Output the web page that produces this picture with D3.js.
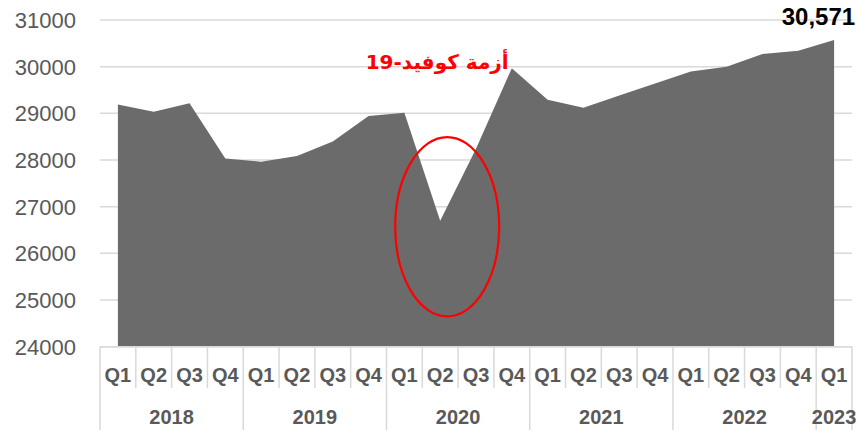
<!DOCTYPE html>
<html>
<head>
<meta charset="utf-8">
<script src="https://cdn.jsdelivr.net/npm/d3@7"></script>
<style>
  html, body { margin: 0; padding: 0; background: #fff; }
  svg { display: block; }
</style>
</head>
<body>
<div id="chart"></div>
<script>
// quarters Q1 2018 .. Q1 2023
const years = ["2018", "2019", "2020", "2021", "2022", "2023"];
const quarters = ["Q1", "Q2", "Q3", "Q4"];
const values = [
  29190, 29035, 29215, 28030,
  27965, 28085, 28395, 28945,
  29015, 26700, 28240, 29965,
  29290, 29120, 29380, 29640,
  29895, 30000, 30270, 30340,
  30571
];
const yTicks = [24000, 25000, 26000, 27000, 28000, 29000, 30000, 31000];
const lastLabel = "30,571";
const covidLabel = "أزمة كوفيد-19";

// build quarter rows from the lists
const rows = values.map((v, i) => ({
  key: years[Math.floor(i / 4)] + "-" + quarters[i % 4],
  year: years[Math.floor(i / 4)],
  q: quarters[i % 4],
  value: v
}));

const W = 857, H = 443;
const plotL = 100, plotR = 852, plotT = 20, plotB = 346.7;

const svg = d3.select("#chart").append("svg")
  .attr("width", W)
  .attr("height", H);

const x = d3.scaleBand()
  .domain(rows.map(d => d.key))
  .range([plotL, plotR])
  .padding(0);

const y = d3.scaleLinear()
  .domain([24000, 31000])
  .range([plotB, plotT]);

const cx = d => x(d.key) + x.bandwidth() / 2;

// gridlines
svg.append("g")
  .selectAll("line")
  .data(yTicks)
  .enter()
  .append("line")
  .attr("x1", plotL)
  .attr("x2", plotR)
  .attr("y1", d => y(d))
  .attr("y2", d => y(d))
  .attr("stroke", "#d9d9d9")
  .attr("stroke-width", 1.5);

// y labels
svg.append("g")
  .selectAll("text")
  .data(yTicks)
  .enter()
  .append("text")
  .attr("x", 76)
  .attr("y", d => y(d))
  .attr("dy", "0.36em")
  .attr("text-anchor", "end")
  .attr("font-family", "'Liberation Sans', Arial, sans-serif")
  .attr("font-size", "22px")
  .attr("fill", "#595959")
  .text(d => d);

// area
const area = d3.area()
  .x(cx)
  .y0(y(24000))
  .y1(d => y(d.value));

svg.append("path")
  .datum(rows)
  .attr("d", area)
  .attr("fill", "#6b6b6b");

// bottom axis line
svg.append("line")
  .attr("x1", plotL)
  .attr("x2", plotR)
  .attr("y1", y(24000))
  .attr("y2", y(24000))
  .attr("stroke", "#d9d9d9")
  .attr("stroke-width", 1.5);

// category separators (quarter short, year long)
const bounds = rows.map((d, i) => ({ x: x(d.key), yearStart: i % 4 === 0 }));
bounds.push({ x: plotR, yearStart: true });

svg.append("g")
  .selectAll("line")
  .data(bounds)
  .enter()
  .append("line")
  .attr("x1", d => d.x)
  .attr("x2", d => d.x)
  .attr("y1", y(24000))
  .attr("y2", d => d.yearStart ? 430 : 388)
  .attr("stroke", "#d9d9d9")
  .attr("stroke-width", 1.5);

// quarter labels
svg.append("g")
  .selectAll("text")
  .data(rows)
  .enter()
  .append("text")
  .attr("x", cx)
  .attr("y", 375)
  .attr("dy", "0.36em")
  .attr("text-anchor", "middle")
  .attr("font-family", "'Liberation Sans', Arial, sans-serif")
  .attr("font-weight", "bold")
  .attr("font-size", "20px")
  .attr("fill", "#595959")
  .text(d => d.q);

// year labels
const yearGroups = d3.groups(rows, d => d.year).map(([yr, items]) => ({
  year: yr,
  x0: x(items[0].key),
  x1: x(items[items.length - 1].key) + x.bandwidth()
}));

svg.append("g")
  .selectAll("text")
  .data(yearGroups)
  .enter()
  .append("text")
  .attr("x", d => (d.x0 + d.x1) / 2)
  .attr("y", 417)
  .attr("dy", "0.36em")
  .attr("text-anchor", "middle")
  .attr("font-family", "'Liberation Sans', Arial, sans-serif")
  .attr("font-weight", "bold")
  .attr("font-size", "20px")
  .attr("fill", "#595959")
  .text(d => d.year);

// last value label
const last = rows[rows.length - 1];
svg.append("text")
  .attr("x", cx(last) + 21)
  .attr("y", y(last.value) - 15)
  .attr("text-anchor", "end")
  .attr("font-family", "'Liberation Sans', Arial, sans-serif")
  .attr("font-weight", "bold")
  .attr("font-size", "24px")
  .attr("fill", "#000")
  .text(lastLabel);

// covid annotation
const dip = rows[9];
svg.append("ellipse")
  .attr("cx", cx(dip) + 7)
  .attr("cy", y(26570))
  .attr("rx", 52)
  .attr("ry", y(24650) - y(26570))
  .attr("fill", "none")
  .attr("stroke", "#ff0000")
  .attr("stroke-width", 2.2);

svg.append("text")
  .attr("x", cx(dip) - 3)
  .attr("y", 69)
  .attr("text-anchor", "middle")
  .attr("direction", "rtl")
  .attr("font-family", "'DejaVu Sans', sans-serif")
  .attr("font-weight", "bold")
  .attr("font-size", "20px")
  .attr("fill", "#ff0000")
  .text(covidLabel);
</script>
</body>
</html>
